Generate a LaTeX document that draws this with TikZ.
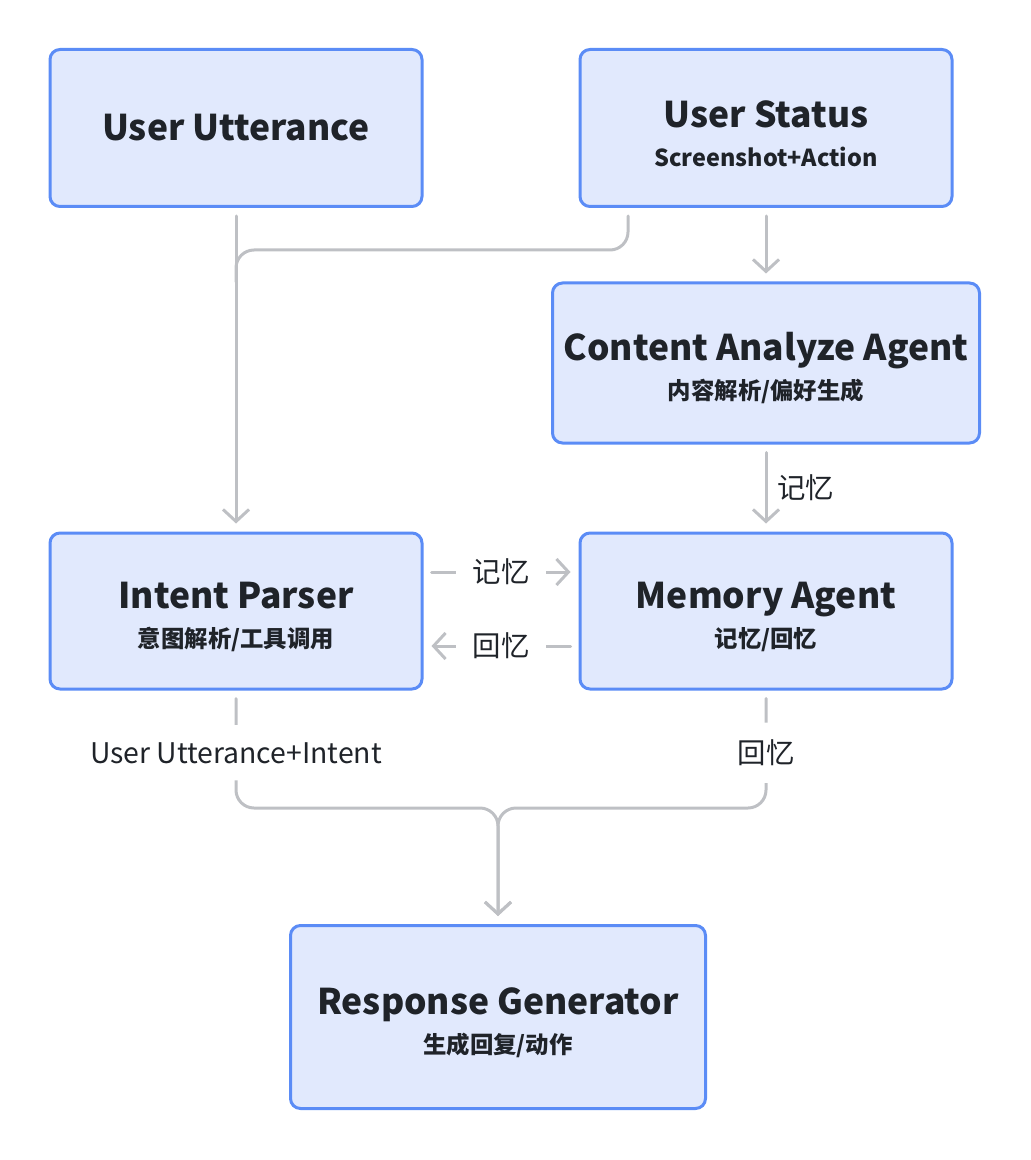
\documentclass[tikz,border=0pt]{standalone}
\usepackage{fontspec}
\setmainfont{Noto Sans CJK SC}
\usetikzlibrary{arrows.meta}
\definecolor{boxfill}{HTML}{E1E9FD}
\definecolor{boxline}{HTML}{5B8CF6}
\definecolor{linkgray}{HTML}{BEC0C4}
\definecolor{txt}{HTML}{1F2329}
\tikzset{
  card/.style={draw=boxline, fill=boxfill, line width=1.5pt, rounded corners=5pt,
    align=center, text=txt, inner sep=0pt, font=\fontsize{11.7}{19.5}\selectfont\bfseries},
  link/.style={draw=linkgray, line width=1.5pt, line cap=round, shorten <=4pt, shorten >=4pt,
    -{Straight Barb[length=6pt,width=13pt]}},
  tag/.style={font=\fontsize{14.2}{16}\selectfont, text=txt, fill=white, inner sep=8.5pt}
}
\newcommand{\cardtitle}[1]{{\fontsize{17.7}{19.5}\selectfont\rule{0pt}{19pt}#1}}
\begin{document}
\begin{tikzpicture}[x=0.5pt,y=-0.5pt]
\useasboundingbox (0,0) rectangle (1030,1160);
% boxes
\node[card, minimum width=186pt, minimum height=78.5pt] (uu) at (236,128) {{\fontsize{17.7}{19.5}\selectfont User Utterance}};
\node[card, minimum width=186pt, minimum height=78.5pt] (us) at (766,128) {\cardtitle{User Status}\\Screenshot+Action};
\node[card, minimum width=213.5pt, minimum height=80pt] (ca) at (766,363) {\cardtitle{Content Analyze Agent}\\内容解析/偏好生成};
\node[card, minimum width=186pt, minimum height=78pt] (ip) at (236,611) {\cardtitle{Intent Parser}\\意图解析/工具调用};
\node[card, minimum width=186pt, minimum height=78pt] (ma) at (766,611) {\cardtitle{Memory Agent}\\记忆/回忆};
\node[card, minimum width=207.5pt, minimum height=91.5pt] (rg) at (498,1017) {\cardtitle{Response Generator}\\生成回复/动作};
\coordinate (joinA) at (236,250);
\coordinate (joinB) at (498,808);
% connectors
\draw[link] (uu.south) -- (ip.north);
\draw[link, -, rounded corners=9pt] ([xshift=-69pt]us.south) |- (joinA) -- ++(0,40);
\draw[link] (us.south) -- (us.south |- ca.north);
\draw[link] (ca.south) -- (ca.south |- ma.north) node[midway, right=3pt, tag, fill=none, inner sep=2pt] {记忆};
\draw[link] ([yshift=19.5pt]ip.east) -- ([yshift=19.5pt]ma.west) node[midway, tag] {记忆};
\draw[link] ([yshift=-17.5pt]ma.west) -- ([yshift=-17.5pt]ip.east) node[midway, tag] {回忆};
\draw[link, rounded corners=9pt] (ip.south) -- (ip.south |- joinB) node[pos=0.53, tag] {User Utterance+Intent} -- (joinB) -- (rg.north);
\draw[link, rounded corners=9pt] (ma.south) -- (ma.south |- joinB) node[pos=0.53, tag] {回忆} -- (joinB) -- (rg.north);
\end{tikzpicture}
\end{document}
